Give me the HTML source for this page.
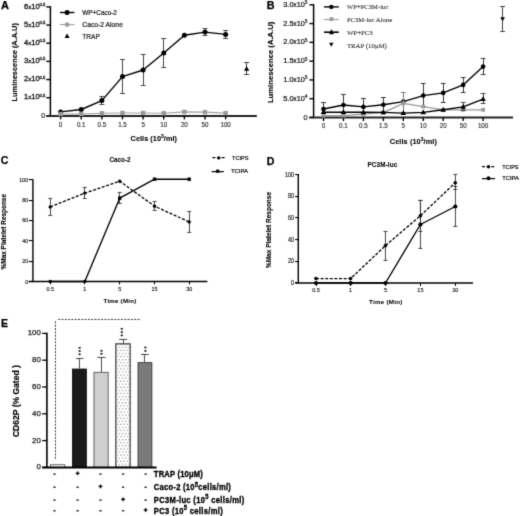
<!DOCTYPE html>
<html><head><meta charset="utf-8"><style>
html,body{margin:0;padding:0;background:#fff;}
body{width:520px;height:516px;overflow:hidden;font-family:"Liberation Sans",sans-serif;}
svg{display:block;}

</style></head><body>
<svg width="520" height="516" viewBox="0 0 520 516">
<defs><filter id="soft" x="0" y="0" width="520" height="516" filterUnits="userSpaceOnUse" color-interpolation-filters="sRGB"><feConvolveMatrix order="3" kernelMatrix="1 6 1 6 36 6 1 6 1" divisor="64" edgeMode="duplicate"/></filter></defs>
<g filter="url(#soft)">
<rect width="520" height="516" fill="#fff"/>
<text x="0.90" y="9.10" font-family="Liberation Sans" font-size="11.0" text-anchor="start" fill="#000" font-weight="bold" stroke="#000" stroke-width="0.25">A</text>
<line x1="50.40" y1="6.20" x2="50.40" y2="115.90" stroke="#000" stroke-width="1.5" stroke-linecap="butt"/>
<line x1="46.30" y1="6.90" x2="50.40" y2="6.90" stroke="#000" stroke-width="1.4" stroke-linecap="butt"/>
<text x="24.0" y="8.50" font-family="Liberation Sans" font-size="7.2" fill="#111" stroke="#111" stroke-width="0.28" textLength="21.4" lengthAdjust="spacingAndGlyphs">6<tspan font-size="5.8">x</tspan>10<tspan font-size="4.0" dy="-2.6">0.5</tspan></text>
<line x1="46.30" y1="25.07" x2="50.40" y2="25.07" stroke="#000" stroke-width="1.4" stroke-linecap="butt"/>
<text x="24.0" y="26.67" font-family="Liberation Sans" font-size="7.2" fill="#111" stroke="#111" stroke-width="0.28" textLength="21.4" lengthAdjust="spacingAndGlyphs">5<tspan font-size="5.8">x</tspan>10<tspan font-size="4.0" dy="-2.6">0.5</tspan></text>
<line x1="46.30" y1="43.23" x2="50.40" y2="43.23" stroke="#000" stroke-width="1.4" stroke-linecap="butt"/>
<text x="24.0" y="44.83" font-family="Liberation Sans" font-size="7.2" fill="#111" stroke="#111" stroke-width="0.28" textLength="21.4" lengthAdjust="spacingAndGlyphs">4<tspan font-size="5.8">x</tspan>10<tspan font-size="4.0" dy="-2.6">0.5</tspan></text>
<line x1="46.30" y1="61.40" x2="50.40" y2="61.40" stroke="#000" stroke-width="1.4" stroke-linecap="butt"/>
<text x="24.0" y="63.00" font-family="Liberation Sans" font-size="7.2" fill="#111" stroke="#111" stroke-width="0.28" textLength="21.4" lengthAdjust="spacingAndGlyphs">3<tspan font-size="5.8">x</tspan>10<tspan font-size="4.0" dy="-2.6">0.5</tspan></text>
<line x1="46.30" y1="79.57" x2="50.40" y2="79.57" stroke="#000" stroke-width="1.4" stroke-linecap="butt"/>
<text x="24.0" y="81.17" font-family="Liberation Sans" font-size="7.2" fill="#111" stroke="#111" stroke-width="0.28" textLength="21.4" lengthAdjust="spacingAndGlyphs">2<tspan font-size="5.8">x</tspan>10<tspan font-size="4.0" dy="-2.6">0.5</tspan></text>
<line x1="46.30" y1="97.73" x2="50.40" y2="97.73" stroke="#000" stroke-width="1.4" stroke-linecap="butt"/>
<text x="24.0" y="99.33" font-family="Liberation Sans" font-size="7.2" fill="#111" stroke="#111" stroke-width="0.28" textLength="21.4" lengthAdjust="spacingAndGlyphs">1<tspan font-size="5.8">x</tspan>10<tspan font-size="4.0" dy="-2.6">0.5</tspan></text>
<line x1="46.30" y1="115.90" x2="50.40" y2="115.90" stroke="#000" stroke-width="1.4" stroke-linecap="butt"/>
<text x="45.00" y="118.40" font-family="Liberation Sans" font-size="6.9" text-anchor="end" fill="#2a2a2a" stroke="#2a2a2a" stroke-width="0.22">0</text>
<line x1="46.30" y1="115.90" x2="256.80" y2="115.90" stroke="#222" stroke-width="2.0" stroke-linecap="butt"/>
<line x1="60.60" y1="115.90" x2="60.60" y2="119.40" stroke="#000" stroke-width="1.4" stroke-linecap="butt"/>
<text x="60.60" y="126.50" font-family="Liberation Sans" font-size="7.6" text-anchor="middle" fill="#1a1a1a" textLength="3.47" lengthAdjust="spacingAndGlyphs" stroke="#1a1a1a" stroke-width="0.12">0</text>
<line x1="81.23" y1="115.90" x2="81.23" y2="119.40" stroke="#000" stroke-width="1.4" stroke-linecap="butt"/>
<text x="81.23" y="126.50" font-family="Liberation Sans" font-size="7.6" text-anchor="middle" fill="#1a1a1a" textLength="8.66" lengthAdjust="spacingAndGlyphs" stroke="#1a1a1a" stroke-width="0.12">0.1</text>
<line x1="101.86" y1="115.90" x2="101.86" y2="119.40" stroke="#000" stroke-width="1.4" stroke-linecap="butt"/>
<text x="101.86" y="126.50" font-family="Liberation Sans" font-size="7.6" text-anchor="middle" fill="#1a1a1a" textLength="8.66" lengthAdjust="spacingAndGlyphs" stroke="#1a1a1a" stroke-width="0.12">0.5</text>
<line x1="122.49" y1="115.90" x2="122.49" y2="119.40" stroke="#000" stroke-width="1.4" stroke-linecap="butt"/>
<text x="122.49" y="126.50" font-family="Liberation Sans" font-size="7.6" text-anchor="middle" fill="#1a1a1a" textLength="8.66" lengthAdjust="spacingAndGlyphs" stroke="#1a1a1a" stroke-width="0.12">1.5</text>
<line x1="143.12" y1="115.90" x2="143.12" y2="119.40" stroke="#000" stroke-width="1.4" stroke-linecap="butt"/>
<text x="143.12" y="126.50" font-family="Liberation Sans" font-size="7.6" text-anchor="middle" fill="#1a1a1a" textLength="3.47" lengthAdjust="spacingAndGlyphs" stroke="#1a1a1a" stroke-width="0.12">5</text>
<line x1="163.75" y1="115.90" x2="163.75" y2="119.40" stroke="#000" stroke-width="1.4" stroke-linecap="butt"/>
<text x="163.75" y="126.50" font-family="Liberation Sans" font-size="7.6" text-anchor="middle" fill="#1a1a1a" textLength="6.93" lengthAdjust="spacingAndGlyphs" stroke="#1a1a1a" stroke-width="0.12">10</text>
<line x1="184.38" y1="115.90" x2="184.38" y2="119.40" stroke="#000" stroke-width="1.4" stroke-linecap="butt"/>
<text x="184.38" y="126.50" font-family="Liberation Sans" font-size="7.6" text-anchor="middle" fill="#1a1a1a" textLength="6.93" lengthAdjust="spacingAndGlyphs" stroke="#1a1a1a" stroke-width="0.12">20</text>
<line x1="205.01" y1="115.90" x2="205.01" y2="119.40" stroke="#000" stroke-width="1.4" stroke-linecap="butt"/>
<text x="205.01" y="126.50" font-family="Liberation Sans" font-size="7.6" text-anchor="middle" fill="#1a1a1a" textLength="6.93" lengthAdjust="spacingAndGlyphs" stroke="#1a1a1a" stroke-width="0.12">50</text>
<line x1="225.64" y1="115.90" x2="225.64" y2="119.40" stroke="#000" stroke-width="1.4" stroke-linecap="butt"/>
<text x="225.64" y="126.50" font-family="Liberation Sans" font-size="7.6" text-anchor="middle" fill="#1a1a1a" textLength="10.40" lengthAdjust="spacingAndGlyphs" stroke="#1a1a1a" stroke-width="0.12">100</text>
<text x="130.6" y="141.0" font-family="Liberation Sans" font-size="7.3" font-weight="bold" stroke="#000" stroke-width="0.08" textLength="46.4" lengthAdjust="spacing">Cells (10<tspan font-size="5" dy="-2.8">3</tspan><tspan dy="2.8">/ml)</tspan></text>
<text x="16.80" y="62.25" font-family="Liberation Sans" font-size="7.9" text-anchor="middle" fill="#000" font-weight="bold" textLength="78.30" lengthAdjust="spacingAndGlyphs" transform="rotate(-90 16.80 62.25)" stroke="#000" stroke-width="0.12">Luminescence (A.A.U)</text>
<line x1="101.50" y1="96.30" x2="101.50" y2="105.00" stroke="#4a4a4a" stroke-width="1.0" stroke-linecap="butt"/>
<line x1="99.36" y1="96.50" x2="104.36" y2="96.50" stroke="#4a4a4a" stroke-width="1.0" stroke-linecap="butt"/>
<line x1="99.36" y1="104.50" x2="104.36" y2="104.50" stroke="#4a4a4a" stroke-width="1.0" stroke-linecap="butt"/>
<line x1="122.50" y1="59.50" x2="122.50" y2="93.30" stroke="#4a4a4a" stroke-width="1.0" stroke-linecap="butt"/>
<line x1="119.99" y1="59.50" x2="124.99" y2="59.50" stroke="#4a4a4a" stroke-width="1.0" stroke-linecap="butt"/>
<line x1="119.99" y1="93.50" x2="124.99" y2="93.50" stroke="#4a4a4a" stroke-width="1.0" stroke-linecap="butt"/>
<line x1="143.50" y1="54.20" x2="143.50" y2="85.50" stroke="#4a4a4a" stroke-width="1.0" stroke-linecap="butt"/>
<line x1="140.62" y1="54.50" x2="145.62" y2="54.50" stroke="#4a4a4a" stroke-width="1.0" stroke-linecap="butt"/>
<line x1="140.62" y1="85.50" x2="145.62" y2="85.50" stroke="#4a4a4a" stroke-width="1.0" stroke-linecap="butt"/>
<line x1="163.50" y1="38.70" x2="163.50" y2="67.20" stroke="#4a4a4a" stroke-width="1.0" stroke-linecap="butt"/>
<line x1="161.25" y1="38.50" x2="166.25" y2="38.50" stroke="#4a4a4a" stroke-width="1.0" stroke-linecap="butt"/>
<line x1="161.25" y1="67.50" x2="166.25" y2="67.50" stroke="#4a4a4a" stroke-width="1.0" stroke-linecap="butt"/>
<line x1="205.50" y1="28.30" x2="205.50" y2="35.50" stroke="#4a4a4a" stroke-width="1.0" stroke-linecap="butt"/>
<line x1="202.51" y1="28.50" x2="207.51" y2="28.50" stroke="#4a4a4a" stroke-width="1.0" stroke-linecap="butt"/>
<line x1="202.51" y1="35.50" x2="207.51" y2="35.50" stroke="#4a4a4a" stroke-width="1.0" stroke-linecap="butt"/>
<line x1="225.50" y1="30.90" x2="225.50" y2="38.20" stroke="#4a4a4a" stroke-width="1.0" stroke-linecap="butt"/>
<line x1="223.14" y1="30.50" x2="228.14" y2="30.50" stroke="#4a4a4a" stroke-width="1.0" stroke-linecap="butt"/>
<line x1="223.14" y1="38.50" x2="228.14" y2="38.50" stroke="#4a4a4a" stroke-width="1.0" stroke-linecap="butt"/>
<polyline points="60.60,111.90 81.23,109.50 101.86,100.60 122.49,76.60 143.12,70.00 163.75,53.00 184.38,35.20 205.01,32.10 225.64,34.40" fill="none" stroke="#000" stroke-width="1.4" stroke-linejoin="round"/>
<circle cx="60.60" cy="111.90" r="2.5" fill="#000"/>
<circle cx="81.23" cy="109.50" r="2.5" fill="#000"/>
<circle cx="101.86" cy="100.60" r="2.5" fill="#000"/>
<circle cx="122.49" cy="76.60" r="2.5" fill="#000"/>
<circle cx="143.12" cy="70.00" r="2.5" fill="#000"/>
<circle cx="163.75" cy="53.00" r="2.5" fill="#000"/>
<circle cx="184.38" cy="35.20" r="2.5" fill="#000"/>
<circle cx="205.01" cy="32.10" r="2.5" fill="#000"/>
<circle cx="225.64" cy="34.40" r="2.5" fill="#000"/>
<polyline points="60.60,114.00 81.23,114.00 101.86,113.30 122.49,113.00 143.12,113.00 163.75,113.20 184.38,111.90 205.01,112.10 225.64,113.10" fill="none" stroke="#a0a0a0" stroke-width="1.1" stroke-linejoin="round"/>
<rect x="58.40" y="111.80" width="4.4" height="4.4" fill="#9a9a9a"/>
<rect x="79.03" y="111.80" width="4.4" height="4.4" fill="#9a9a9a"/>
<rect x="99.66" y="111.10" width="4.4" height="4.4" fill="#9a9a9a"/>
<rect x="120.29" y="110.80" width="4.4" height="4.4" fill="#9a9a9a"/>
<rect x="140.92" y="110.80" width="4.4" height="4.4" fill="#9a9a9a"/>
<rect x="161.55" y="111.00" width="4.4" height="4.4" fill="#9a9a9a"/>
<rect x="182.18" y="109.70" width="4.4" height="4.4" fill="#9a9a9a"/>
<rect x="202.81" y="109.90" width="4.4" height="4.4" fill="#9a9a9a"/>
<rect x="223.44" y="110.90" width="4.4" height="4.4" fill="#9a9a9a"/>
<line x1="246.50" y1="62.60" x2="246.50" y2="74.30" stroke="#444" stroke-width="1.0" stroke-linecap="butt"/>
<line x1="244.10" y1="62.50" x2="249.10" y2="62.50" stroke="#444" stroke-width="1.0" stroke-linecap="butt"/>
<line x1="244.10" y1="74.50" x2="249.10" y2="74.50" stroke="#444" stroke-width="1.0" stroke-linecap="butt"/>
<polygon points="246.60,65.99 244.00,70.67 249.20,70.67" fill="#000"/>
<line x1="60.00" y1="12.50" x2="74.40" y2="12.50" stroke="#000" stroke-width="1.4" stroke-linecap="butt"/>
<circle cx="67.10" cy="12.50" r="2.5" fill="#000"/>
<text x="82.30" y="14.80" font-family="Liberation Sans" font-size="6.8" text-anchor="start" fill="#1e1e1e" textLength="34.60" lengthAdjust="spacingAndGlyphs" stroke="#1e1e1e" stroke-width="0.22">WP+Caco-2</text>
<line x1="60.00" y1="24.55" x2="74.40" y2="24.55" stroke="#a0a0a0" stroke-width="1.1" stroke-linecap="butt"/>
<rect x="65.10" y="22.60" width="4.0" height="4.0" fill="#9a9a9a"/>
<text x="82.30" y="26.90" font-family="Liberation Sans" font-size="6.8" text-anchor="start" fill="#1e1e1e" textLength="40.60" lengthAdjust="spacingAndGlyphs" stroke="#1e1e1e" stroke-width="0.22">Caco-2 Alone</text>
<polygon points="67.10,33.60 64.60,38.10 69.60,38.10" fill="#000"/>
<text x="82.30" y="38.60" font-family="Liberation Sans" font-size="6.8" text-anchor="start" fill="#1e1e1e" textLength="17.60" lengthAdjust="spacingAndGlyphs" stroke="#1e1e1e" stroke-width="0.22">TRAP</text>
<text x="266.70" y="8.80" font-family="Liberation Sans" font-size="10.8" text-anchor="start" fill="#000" font-weight="bold" stroke="#000" stroke-width="0.25">B</text>
<line x1="313.60" y1="4.10" x2="313.60" y2="117.50" stroke="#000" stroke-width="1.5" stroke-linecap="butt"/>
<line x1="309.40" y1="4.80" x2="313.60" y2="4.80" stroke="#000" stroke-width="1.4" stroke-linecap="butt"/>
<text x="283.2" y="6.80" font-family="Liberation Sans" font-size="7.9" fill="#111" stroke="#111" stroke-width="0.22" textLength="24.2" lengthAdjust="spacingAndGlyphs">3.0<tspan font-size="6.6">x</tspan>10<tspan font-size="4.6" dy="-2.5">5</tspan></text>
<line x1="309.40" y1="23.58" x2="313.60" y2="23.58" stroke="#000" stroke-width="1.4" stroke-linecap="butt"/>
<text x="283.2" y="25.58" font-family="Liberation Sans" font-size="7.9" fill="#111" stroke="#111" stroke-width="0.22" textLength="24.2" lengthAdjust="spacingAndGlyphs">2.5<tspan font-size="6.6">x</tspan>10<tspan font-size="4.6" dy="-2.5">5</tspan></text>
<line x1="309.40" y1="42.37" x2="313.60" y2="42.37" stroke="#000" stroke-width="1.4" stroke-linecap="butt"/>
<text x="283.2" y="44.37" font-family="Liberation Sans" font-size="7.9" fill="#111" stroke="#111" stroke-width="0.22" textLength="24.2" lengthAdjust="spacingAndGlyphs">2.0<tspan font-size="6.6">x</tspan>10<tspan font-size="4.6" dy="-2.5">5</tspan></text>
<line x1="309.40" y1="61.15" x2="313.60" y2="61.15" stroke="#000" stroke-width="1.4" stroke-linecap="butt"/>
<text x="283.2" y="63.15" font-family="Liberation Sans" font-size="7.9" fill="#111" stroke="#111" stroke-width="0.22" textLength="24.2" lengthAdjust="spacingAndGlyphs">1.5<tspan font-size="6.6">x</tspan>10<tspan font-size="4.6" dy="-2.5">5</tspan></text>
<line x1="309.40" y1="79.93" x2="313.60" y2="79.93" stroke="#000" stroke-width="1.4" stroke-linecap="butt"/>
<text x="283.2" y="81.93" font-family="Liberation Sans" font-size="7.9" fill="#111" stroke="#111" stroke-width="0.22" textLength="24.2" lengthAdjust="spacingAndGlyphs">1.0<tspan font-size="6.6">x</tspan>10<tspan font-size="4.6" dy="-2.5">5</tspan></text>
<line x1="309.40" y1="98.72" x2="313.60" y2="98.72" stroke="#000" stroke-width="1.4" stroke-linecap="butt"/>
<text x="283.2" y="100.72" font-family="Liberation Sans" font-size="7.9" fill="#111" stroke="#111" stroke-width="0.22" textLength="24.2" lengthAdjust="spacingAndGlyphs">5.0<tspan font-size="6.6">x</tspan>10<tspan font-size="4.6" dy="-2.5">4</tspan></text>
<line x1="309.40" y1="117.50" x2="313.60" y2="117.50" stroke="#000" stroke-width="1.4" stroke-linecap="butt"/>
<text x="307.60" y="120.10" font-family="Liberation Sans" font-size="7.3" text-anchor="end" fill="#2a2a2a" stroke="#2a2a2a" stroke-width="0.22">0</text>
<line x1="309.40" y1="117.50" x2="513.00" y2="117.50" stroke="#222" stroke-width="2.0" stroke-linecap="butt"/>
<line x1="323.50" y1="117.50" x2="323.50" y2="121.00" stroke="#000" stroke-width="1.4" stroke-linecap="butt"/>
<text x="323.50" y="128.20" font-family="Liberation Sans" font-size="7.6" text-anchor="middle" fill="#1a1a1a" textLength="3.47" lengthAdjust="spacingAndGlyphs" stroke="#1a1a1a" stroke-width="0.12">0</text>
<line x1="343.45" y1="117.50" x2="343.45" y2="121.00" stroke="#000" stroke-width="1.4" stroke-linecap="butt"/>
<text x="343.45" y="128.20" font-family="Liberation Sans" font-size="7.6" text-anchor="middle" fill="#1a1a1a" textLength="8.66" lengthAdjust="spacingAndGlyphs" stroke="#1a1a1a" stroke-width="0.12">0.1</text>
<line x1="363.40" y1="117.50" x2="363.40" y2="121.00" stroke="#000" stroke-width="1.4" stroke-linecap="butt"/>
<text x="363.40" y="128.20" font-family="Liberation Sans" font-size="7.6" text-anchor="middle" fill="#1a1a1a" textLength="8.66" lengthAdjust="spacingAndGlyphs" stroke="#1a1a1a" stroke-width="0.12">0.5</text>
<line x1="383.35" y1="117.50" x2="383.35" y2="121.00" stroke="#000" stroke-width="1.4" stroke-linecap="butt"/>
<text x="383.35" y="128.20" font-family="Liberation Sans" font-size="7.6" text-anchor="middle" fill="#1a1a1a" textLength="8.66" lengthAdjust="spacingAndGlyphs" stroke="#1a1a1a" stroke-width="0.12">1.5</text>
<line x1="403.30" y1="117.50" x2="403.30" y2="121.00" stroke="#000" stroke-width="1.4" stroke-linecap="butt"/>
<text x="403.30" y="128.20" font-family="Liberation Sans" font-size="7.6" text-anchor="middle" fill="#1a1a1a" textLength="3.47" lengthAdjust="spacingAndGlyphs" stroke="#1a1a1a" stroke-width="0.12">5</text>
<line x1="423.25" y1="117.50" x2="423.25" y2="121.00" stroke="#000" stroke-width="1.4" stroke-linecap="butt"/>
<text x="423.25" y="128.20" font-family="Liberation Sans" font-size="7.6" text-anchor="middle" fill="#1a1a1a" textLength="6.93" lengthAdjust="spacingAndGlyphs" stroke="#1a1a1a" stroke-width="0.12">10</text>
<line x1="443.20" y1="117.50" x2="443.20" y2="121.00" stroke="#000" stroke-width="1.4" stroke-linecap="butt"/>
<text x="443.20" y="128.20" font-family="Liberation Sans" font-size="7.6" text-anchor="middle" fill="#1a1a1a" textLength="6.93" lengthAdjust="spacingAndGlyphs" stroke="#1a1a1a" stroke-width="0.12">20</text>
<line x1="463.15" y1="117.50" x2="463.15" y2="121.00" stroke="#000" stroke-width="1.4" stroke-linecap="butt"/>
<text x="463.15" y="128.20" font-family="Liberation Sans" font-size="7.6" text-anchor="middle" fill="#1a1a1a" textLength="6.93" lengthAdjust="spacingAndGlyphs" stroke="#1a1a1a" stroke-width="0.12">50</text>
<line x1="483.10" y1="117.50" x2="483.10" y2="121.00" stroke="#000" stroke-width="1.4" stroke-linecap="butt"/>
<text x="483.10" y="128.20" font-family="Liberation Sans" font-size="7.6" text-anchor="middle" fill="#1a1a1a" textLength="10.40" lengthAdjust="spacingAndGlyphs" stroke="#1a1a1a" stroke-width="0.12">100</text>
<text x="389.8" y="144.0" font-family="Liberation Sans" font-size="7.3" font-weight="bold" stroke="#000" stroke-width="0.08" textLength="47.1" lengthAdjust="spacing">Cells (10<tspan font-size="5" dy="-2.8">3</tspan><tspan dy="2.8">/ml)</tspan></text>
<text x="273.40" y="62.35" font-family="Liberation Sans" font-size="8.0" text-anchor="middle" fill="#000" font-weight="bold" textLength="81.50" lengthAdjust="spacingAndGlyphs" transform="rotate(-90 273.40 62.35)" stroke="#000" stroke-width="0.12">Luminescence (A.A.U)</text>
<line x1="323.50" y1="102.50" x2="323.50" y2="113.50" stroke="#3a3a3a" stroke-width="1.0" stroke-linecap="butt"/>
<line x1="321.10" y1="102.50" x2="325.90" y2="102.50" stroke="#3a3a3a" stroke-width="1.0" stroke-linecap="butt"/>
<line x1="321.10" y1="113.50" x2="325.90" y2="113.50" stroke="#3a3a3a" stroke-width="1.0" stroke-linecap="butt"/>
<line x1="343.50" y1="95.00" x2="343.50" y2="113.50" stroke="#3a3a3a" stroke-width="1.0" stroke-linecap="butt"/>
<line x1="341.05" y1="94.50" x2="345.85" y2="94.50" stroke="#3a3a3a" stroke-width="1.0" stroke-linecap="butt"/>
<line x1="341.05" y1="113.50" x2="345.85" y2="113.50" stroke="#3a3a3a" stroke-width="1.0" stroke-linecap="butt"/>
<line x1="363.50" y1="98.20" x2="363.50" y2="113.50" stroke="#3a3a3a" stroke-width="1.0" stroke-linecap="butt"/>
<line x1="361.00" y1="98.50" x2="365.80" y2="98.50" stroke="#3a3a3a" stroke-width="1.0" stroke-linecap="butt"/>
<line x1="361.00" y1="113.50" x2="365.80" y2="113.50" stroke="#3a3a3a" stroke-width="1.0" stroke-linecap="butt"/>
<line x1="383.50" y1="97.50" x2="383.50" y2="111.90" stroke="#3a3a3a" stroke-width="1.0" stroke-linecap="butt"/>
<line x1="380.95" y1="97.50" x2="385.75" y2="97.50" stroke="#3a3a3a" stroke-width="1.0" stroke-linecap="butt"/>
<line x1="380.95" y1="111.50" x2="385.75" y2="111.50" stroke="#3a3a3a" stroke-width="1.0" stroke-linecap="butt"/>
<line x1="423.50" y1="83.80" x2="423.50" y2="106.00" stroke="#3a3a3a" stroke-width="1.0" stroke-linecap="butt"/>
<line x1="420.85" y1="83.50" x2="425.65" y2="83.50" stroke="#3a3a3a" stroke-width="1.0" stroke-linecap="butt"/>
<line x1="420.85" y1="106.50" x2="425.65" y2="106.50" stroke="#3a3a3a" stroke-width="1.0" stroke-linecap="butt"/>
<line x1="443.50" y1="83.70" x2="443.50" y2="102.20" stroke="#3a3a3a" stroke-width="1.0" stroke-linecap="butt"/>
<line x1="440.80" y1="83.50" x2="445.60" y2="83.50" stroke="#3a3a3a" stroke-width="1.0" stroke-linecap="butt"/>
<line x1="440.80" y1="102.50" x2="445.60" y2="102.50" stroke="#3a3a3a" stroke-width="1.0" stroke-linecap="butt"/>
<line x1="463.50" y1="77.70" x2="463.50" y2="92.30" stroke="#3a3a3a" stroke-width="1.0" stroke-linecap="butt"/>
<line x1="460.75" y1="77.50" x2="465.55" y2="77.50" stroke="#3a3a3a" stroke-width="1.0" stroke-linecap="butt"/>
<line x1="460.75" y1="92.50" x2="465.55" y2="92.50" stroke="#3a3a3a" stroke-width="1.0" stroke-linecap="butt"/>
<line x1="483.50" y1="58.80" x2="483.50" y2="74.30" stroke="#3a3a3a" stroke-width="1.0" stroke-linecap="butt"/>
<line x1="480.70" y1="58.50" x2="485.50" y2="58.50" stroke="#3a3a3a" stroke-width="1.0" stroke-linecap="butt"/>
<line x1="480.70" y1="74.50" x2="485.50" y2="74.50" stroke="#3a3a3a" stroke-width="1.0" stroke-linecap="butt"/>
<polyline points="323.50,109.00 343.45,105.00 363.40,106.90 383.35,104.70 403.30,101.60 423.25,95.60 443.20,92.90 463.15,84.90 483.10,66.60" fill="none" stroke="#000" stroke-width="1.4" stroke-linejoin="round"/>
<circle cx="323.50" cy="109.00" r="2.3" fill="#000"/>
<circle cx="343.45" cy="105.00" r="2.3" fill="#000"/>
<circle cx="363.40" cy="106.90" r="2.3" fill="#000"/>
<circle cx="383.35" cy="104.70" r="2.3" fill="#000"/>
<circle cx="403.30" cy="101.60" r="2.3" fill="#000"/>
<circle cx="423.25" cy="95.60" r="2.3" fill="#000"/>
<circle cx="443.20" cy="92.90" r="2.3" fill="#000"/>
<circle cx="463.15" cy="84.90" r="2.3" fill="#000"/>
<circle cx="483.10" cy="66.60" r="2.3" fill="#000"/>
<line x1="403.50" y1="92.50" x2="403.50" y2="112.50" stroke="#777" stroke-width="1.0" stroke-linecap="butt"/>
<line x1="400.90" y1="92.50" x2="405.70" y2="92.50" stroke="#777" stroke-width="1.0" stroke-linecap="butt"/>
<line x1="400.90" y1="112.50" x2="405.70" y2="112.50" stroke="#777" stroke-width="1.0" stroke-linecap="butt"/>
<polyline points="323.50,115.60 343.45,115.60 363.40,114.20 383.35,112.60 403.30,103.30 423.25,106.60 443.20,109.80 463.15,109.80 483.10,109.80" fill="none" stroke="#9a9a9a" stroke-width="1.3" stroke-linejoin="round"/>
<rect x="321.60" y="113.70" width="3.8" height="3.8" fill="#9a9a9a"/>
<rect x="341.55" y="113.70" width="3.8" height="3.8" fill="#9a9a9a"/>
<rect x="361.50" y="112.30" width="3.8" height="3.8" fill="#9a9a9a"/>
<rect x="381.45" y="110.70" width="3.8" height="3.8" fill="#9a9a9a"/>
<rect x="401.40" y="101.40" width="3.8" height="3.8" fill="#9a9a9a"/>
<rect x="421.35" y="104.70" width="3.8" height="3.8" fill="#9a9a9a"/>
<rect x="441.30" y="107.90" width="3.8" height="3.8" fill="#9a9a9a"/>
<rect x="461.25" y="107.90" width="3.8" height="3.8" fill="#9a9a9a"/>
<rect x="481.20" y="107.90" width="3.8" height="3.8" fill="#9a9a9a"/>
<line x1="463.50" y1="102.70" x2="463.50" y2="111.00" stroke="#444" stroke-width="1.0" stroke-linecap="butt"/>
<line x1="460.75" y1="102.50" x2="465.55" y2="102.50" stroke="#444" stroke-width="1.0" stroke-linecap="butt"/>
<line x1="460.75" y1="110.50" x2="465.55" y2="110.50" stroke="#444" stroke-width="1.0" stroke-linecap="butt"/>
<line x1="483.50" y1="93.40" x2="483.50" y2="103.90" stroke="#444" stroke-width="1.0" stroke-linecap="butt"/>
<line x1="480.70" y1="93.50" x2="485.50" y2="93.50" stroke="#444" stroke-width="1.0" stroke-linecap="butt"/>
<line x1="480.70" y1="103.50" x2="485.50" y2="103.50" stroke="#444" stroke-width="1.0" stroke-linecap="butt"/>
<polyline points="323.50,112.20 343.45,112.20 363.40,112.30 383.35,112.40 403.30,113.10 423.25,112.40 443.20,109.80 463.15,106.90 483.10,99.10" fill="none" stroke="#000" stroke-width="1.4" stroke-linejoin="round"/>
<polygon points="323.50,109.32 320.70,114.12 326.30,114.12" fill="#000"/>
<polygon points="343.45,109.32 340.65,114.12 346.25,114.12" fill="#000"/>
<polygon points="363.40,109.42 360.60,114.22 366.20,114.22" fill="#000"/>
<polygon points="383.35,109.52 380.55,114.32 386.15,114.32" fill="#000"/>
<polygon points="403.30,110.22 400.50,115.02 406.10,115.02" fill="#000"/>
<polygon points="423.25,109.52 420.45,114.32 426.05,114.32" fill="#000"/>
<polygon points="443.20,106.92 440.40,111.72 446.00,111.72" fill="#000"/>
<polygon points="463.15,104.02 460.35,108.82 465.95,108.82" fill="#000"/>
<polygon points="483.10,96.22 480.30,101.02 485.90,101.02" fill="#000"/>
<line x1="502.50" y1="6.30" x2="502.50" y2="31.90" stroke="#444" stroke-width="1.0" stroke-linecap="butt"/>
<line x1="500.20" y1="6.50" x2="505.00" y2="6.50" stroke="#444" stroke-width="1.0" stroke-linecap="butt"/>
<line x1="500.20" y1="31.50" x2="505.00" y2="31.50" stroke="#444" stroke-width="1.0" stroke-linecap="butt"/>
<polygon points="502.60,21.38 500.30,17.24 504.90,17.24" fill="#000"/>
<line x1="324.00" y1="6.90" x2="338.80" y2="6.90" stroke="#000" stroke-width="1.4" stroke-linecap="butt"/>
<circle cx="331.30" cy="6.90" r="2.2" fill="#000"/>
<text x="346.90" y="9.30" font-family="Liberation Serif" font-size="6.9" text-anchor="start" fill="#2a2a2a" textLength="41.50" lengthAdjust="spacingAndGlyphs" stroke="#2a2a2a" stroke-width="0.08">WP+PC3M-luc</text>
<line x1="324.00" y1="19.55" x2="338.80" y2="19.55" stroke="#a0a0a0" stroke-width="1.1" stroke-linecap="butt"/>
<rect x="329.60" y="17.20" width="3.8" height="3.8" fill="#9a9a9a"/>
<text x="346.90" y="22.10" font-family="Liberation Serif" font-size="6.9" text-anchor="start" fill="#2a2a2a" textLength="45.20" lengthAdjust="spacingAndGlyphs" stroke="#2a2a2a" stroke-width="0.08">PC3M-luc Alone</text>
<line x1="324.00" y1="32.20" x2="338.80" y2="32.20" stroke="#000" stroke-width="1.6" stroke-linecap="butt"/>
<polygon points="331.50,29.08 329.10,34.28 333.90,34.28" fill="#000"/>
<text x="346.90" y="35.00" font-family="Liberation Serif" font-size="6.9" text-anchor="start" fill="#2a2a2a" textLength="25.90" lengthAdjust="spacingAndGlyphs" stroke="#2a2a2a" stroke-width="0.08">WP+PC3</text>
<polygon points="331.30,46.78 329.10,42.82 333.50,42.82" fill="#000"/>
<text x="346.90" y="47.50" font-family="Liberation Serif" font-size="6.9" text-anchor="start" fill="#2a2a2a" textLength="40.00" lengthAdjust="spacingAndGlyphs" stroke="#2a2a2a" stroke-width="0.08">TRAP (10μM)</text>
<text x="0.80" y="164.30" font-family="Liberation Sans" font-size="10.6" text-anchor="start" fill="#000" font-weight="bold" stroke="#000" stroke-width="0.25">C</text>
<line x1="32.90" y1="179.20" x2="32.90" y2="281.50" stroke="#000" stroke-width="1.4" stroke-linecap="butt"/>
<line x1="28.80" y1="179.55" x2="32.90" y2="179.55" stroke="#000" stroke-width="1.1" stroke-linecap="butt"/>
<text x="28.20" y="181.80" font-family="Liberation Sans" font-size="6.2" text-anchor="end" fill="#111" textLength="8.90" lengthAdjust="spacingAndGlyphs" stroke="#111" stroke-width="0.15">100</text>
<line x1="28.80" y1="200.55" x2="32.90" y2="200.55" stroke="#000" stroke-width="1.1" stroke-linecap="butt"/>
<text x="28.20" y="202.14" font-family="Liberation Sans" font-size="6.2" text-anchor="end" fill="#111" textLength="5.93" lengthAdjust="spacingAndGlyphs" stroke="#111" stroke-width="0.15">80</text>
<line x1="28.80" y1="220.55" x2="32.90" y2="220.55" stroke="#000" stroke-width="1.1" stroke-linecap="butt"/>
<text x="28.20" y="222.48" font-family="Liberation Sans" font-size="6.2" text-anchor="end" fill="#111" textLength="5.93" lengthAdjust="spacingAndGlyphs" stroke="#111" stroke-width="0.15">60</text>
<line x1="28.80" y1="240.55" x2="32.90" y2="240.55" stroke="#000" stroke-width="1.1" stroke-linecap="butt"/>
<text x="28.20" y="242.82" font-family="Liberation Sans" font-size="6.2" text-anchor="end" fill="#111" textLength="5.93" lengthAdjust="spacingAndGlyphs" stroke="#111" stroke-width="0.15">40</text>
<line x1="28.80" y1="261.55" x2="32.90" y2="261.55" stroke="#000" stroke-width="1.1" stroke-linecap="butt"/>
<text x="28.20" y="263.16" font-family="Liberation Sans" font-size="6.2" text-anchor="end" fill="#111" textLength="5.93" lengthAdjust="spacingAndGlyphs" stroke="#111" stroke-width="0.15">20</text>
<line x1="28.80" y1="281.55" x2="32.90" y2="281.55" stroke="#000" stroke-width="1.1" stroke-linecap="butt"/>
<text x="28.20" y="283.50" font-family="Liberation Sans" font-size="6.2" text-anchor="end" fill="#111" textLength="2.97" lengthAdjust="spacingAndGlyphs" stroke="#111" stroke-width="0.15">0</text>
<line x1="28.80" y1="281.50" x2="207.40" y2="281.50" stroke="#000" stroke-width="1.5" stroke-linecap="butt"/>
<line x1="50.50" y1="281.50" x2="50.50" y2="284.40" stroke="#000" stroke-width="1.0" stroke-linecap="butt"/>
<text x="50.20" y="290.80" font-family="Liberation Sans" font-size="6.1" text-anchor="middle" fill="#111" textLength="7.46" lengthAdjust="spacingAndGlyphs" stroke="#111" stroke-width="0.15">0.5</text>
<line x1="84.50" y1="281.50" x2="84.50" y2="284.40" stroke="#000" stroke-width="1.0" stroke-linecap="butt"/>
<text x="84.80" y="290.80" font-family="Liberation Sans" font-size="6.1" text-anchor="middle" fill="#111" textLength="2.99" lengthAdjust="spacingAndGlyphs" stroke="#111" stroke-width="0.15">1</text>
<line x1="119.50" y1="281.50" x2="119.50" y2="284.40" stroke="#000" stroke-width="1.0" stroke-linecap="butt"/>
<text x="119.70" y="290.80" font-family="Liberation Sans" font-size="6.1" text-anchor="middle" fill="#111" textLength="2.99" lengthAdjust="spacingAndGlyphs" stroke="#111" stroke-width="0.15">5</text>
<line x1="154.50" y1="281.50" x2="154.50" y2="284.40" stroke="#000" stroke-width="1.0" stroke-linecap="butt"/>
<text x="154.60" y="290.80" font-family="Liberation Sans" font-size="6.1" text-anchor="middle" fill="#111" textLength="5.97" lengthAdjust="spacingAndGlyphs" stroke="#111" stroke-width="0.15">15</text>
<line x1="189.50" y1="281.50" x2="189.50" y2="284.40" stroke="#000" stroke-width="1.0" stroke-linecap="butt"/>
<text x="189.20" y="290.80" font-family="Liberation Sans" font-size="6.1" text-anchor="middle" fill="#111" textLength="5.97" lengthAdjust="spacingAndGlyphs" stroke="#111" stroke-width="0.15">30</text>
<text x="103.50" y="302.80" font-family="Liberation Sans" font-size="6.1" text-anchor="start" fill="#000" font-weight="bold" textLength="32.70" lengthAdjust="spacing" stroke="#000" stroke-width="0.05">Time (Min)</text>
<text x="109.40" y="161.90" font-family="Liberation Sans" font-size="6.3" text-anchor="start" fill="#000" font-weight="bold" textLength="21.20" lengthAdjust="spacing" stroke="#000" stroke-width="0.06">Caco-2</text>
<text x="6.00" y="231.70" font-family="Liberation Sans" font-size="6.5" text-anchor="middle" fill="#000" font-weight="bold" textLength="75.40" lengthAdjust="spacingAndGlyphs" transform="rotate(-90 6.00 231.70)" stroke="#000" stroke-width="0.12">%Max Platelet Response</text>
<line x1="50.45" y1="198.80" x2="50.45" y2="215.20" stroke="#333" stroke-width="0.9" stroke-linecap="butt"/>
<line x1="48.20" y1="198.45" x2="52.20" y2="198.45" stroke="#333" stroke-width="0.9" stroke-linecap="butt"/>
<line x1="48.20" y1="215.45" x2="52.20" y2="215.45" stroke="#333" stroke-width="0.9" stroke-linecap="butt"/>
<line x1="84.45" y1="187.70" x2="84.45" y2="198.30" stroke="#333" stroke-width="0.9" stroke-linecap="butt"/>
<line x1="82.80" y1="187.45" x2="86.80" y2="187.45" stroke="#333" stroke-width="0.9" stroke-linecap="butt"/>
<line x1="82.80" y1="198.45" x2="86.80" y2="198.45" stroke="#333" stroke-width="0.9" stroke-linecap="butt"/>
<line x1="154.45" y1="201.90" x2="154.45" y2="210.40" stroke="#333" stroke-width="0.9" stroke-linecap="butt"/>
<line x1="152.60" y1="201.45" x2="156.60" y2="201.45" stroke="#333" stroke-width="0.9" stroke-linecap="butt"/>
<line x1="152.60" y1="210.45" x2="156.60" y2="210.45" stroke="#333" stroke-width="0.9" stroke-linecap="butt"/>
<line x1="189.45" y1="211.50" x2="189.45" y2="232.10" stroke="#333" stroke-width="0.9" stroke-linecap="butt"/>
<line x1="187.20" y1="211.45" x2="191.20" y2="211.45" stroke="#333" stroke-width="0.9" stroke-linecap="butt"/>
<line x1="187.20" y1="232.45" x2="191.20" y2="232.45" stroke="#333" stroke-width="0.9" stroke-linecap="butt"/>
<polyline points="50.20,206.90 84.80,193.10 119.70,181.20 154.60,206.20 189.20,221.90" fill="none" stroke="#000" stroke-width="1.35" stroke-linejoin="round" stroke-dasharray="3,1.6"/>
<circle cx="50.20" cy="206.90" r="1.7" fill="#000"/>
<circle cx="84.80" cy="193.10" r="1.7" fill="#000"/>
<circle cx="119.70" cy="181.20" r="1.7" fill="#000"/>
<circle cx="154.60" cy="206.20" r="1.7" fill="#000"/>
<circle cx="189.20" cy="221.90" r="1.7" fill="#000"/>
<line x1="119.45" y1="192.70" x2="119.45" y2="203.60" stroke="#333" stroke-width="0.9" stroke-linecap="butt"/>
<line x1="117.70" y1="192.45" x2="121.70" y2="192.45" stroke="#333" stroke-width="0.9" stroke-linecap="butt"/>
<line x1="117.70" y1="203.45" x2="121.70" y2="203.45" stroke="#333" stroke-width="0.9" stroke-linecap="butt"/>
<polyline points="50.20,281.50 84.80,281.50 119.70,198.20 154.60,179.20 189.20,179.20" fill="none" stroke="#000" stroke-width="1.35" stroke-linejoin="round"/>
<circle cx="50.20" cy="281.50" r="1.8" fill="#000"/>
<circle cx="84.80" cy="281.50" r="1.8" fill="#000"/>
<rect x="118.00" y="196.50" width="3.4" height="3.4" fill="#000"/>
<rect x="152.90" y="177.50" width="3.4" height="3.4" fill="#000"/>
<rect x="187.50" y="177.50" width="3.4" height="3.4" fill="#000"/>
<line x1="212.40" y1="157.60" x2="225.10" y2="157.60" stroke="#000" stroke-width="1.2" stroke-linecap="butt" stroke-dasharray="3,1.6"/>
<circle cx="218.80" cy="157.90" r="1.7" fill="#000"/>
<text x="232.00" y="159.80" font-family="Liberation Sans" font-size="5.5" text-anchor="start" fill="#111" textLength="16.60" lengthAdjust="spacingAndGlyphs" stroke="#111" stroke-width="0.2">TCIPS</text>
<line x1="211.60" y1="171.60" x2="223.80" y2="171.60" stroke="#000" stroke-width="1.2" stroke-linecap="butt"/>
<rect x="216.10" y="169.60" width="3.2" height="3.2" fill="#000"/>
<text x="230.90" y="173.10" font-family="Liberation Sans" font-size="5.5" text-anchor="start" fill="#111" textLength="17.00" lengthAdjust="spacingAndGlyphs" stroke="#111" stroke-width="0.2">TCIPA</text>
<text x="266.70" y="164.50" font-family="Liberation Sans" font-size="10.6" text-anchor="start" fill="#000" font-weight="bold" stroke="#000" stroke-width="0.25">D</text>
<line x1="298.30" y1="174.00" x2="298.30" y2="283.00" stroke="#000" stroke-width="1.4" stroke-linecap="butt"/>
<line x1="295.10" y1="174.55" x2="298.30" y2="174.55" stroke="#000" stroke-width="1.1" stroke-linecap="butt"/>
<text x="294.00" y="176.70" font-family="Liberation Sans" font-size="6.3" text-anchor="end" fill="#111" textLength="9.04" lengthAdjust="spacingAndGlyphs" stroke="#111" stroke-width="0.15">100</text>
<line x1="295.10" y1="196.55" x2="298.30" y2="196.55" stroke="#000" stroke-width="1.1" stroke-linecap="butt"/>
<text x="294.00" y="198.38" font-family="Liberation Sans" font-size="6.3" text-anchor="end" fill="#111" textLength="6.03" lengthAdjust="spacingAndGlyphs" stroke="#111" stroke-width="0.15">80</text>
<line x1="295.10" y1="217.55" x2="298.30" y2="217.55" stroke="#000" stroke-width="1.1" stroke-linecap="butt"/>
<text x="294.00" y="220.06" font-family="Liberation Sans" font-size="6.3" text-anchor="end" fill="#111" textLength="6.03" lengthAdjust="spacingAndGlyphs" stroke="#111" stroke-width="0.15">60</text>
<line x1="295.10" y1="239.55" x2="298.30" y2="239.55" stroke="#000" stroke-width="1.1" stroke-linecap="butt"/>
<text x="294.00" y="241.74" font-family="Liberation Sans" font-size="6.3" text-anchor="end" fill="#111" textLength="6.03" lengthAdjust="spacingAndGlyphs" stroke="#111" stroke-width="0.15">40</text>
<line x1="295.10" y1="261.55" x2="298.30" y2="261.55" stroke="#000" stroke-width="1.1" stroke-linecap="butt"/>
<text x="294.00" y="263.42" font-family="Liberation Sans" font-size="6.3" text-anchor="end" fill="#111" textLength="6.03" lengthAdjust="spacingAndGlyphs" stroke="#111" stroke-width="0.15">20</text>
<line x1="295.10" y1="282.55" x2="298.30" y2="282.55" stroke="#000" stroke-width="1.1" stroke-linecap="butt"/>
<text x="294.00" y="285.10" font-family="Liberation Sans" font-size="6.3" text-anchor="end" fill="#111" textLength="3.01" lengthAdjust="spacingAndGlyphs" stroke="#111" stroke-width="0.15">0</text>
<line x1="295.10" y1="283.00" x2="473.00" y2="283.00" stroke="#000" stroke-width="1.5" stroke-linecap="butt"/>
<line x1="316.50" y1="283.00" x2="316.50" y2="286.00" stroke="#000" stroke-width="1.0" stroke-linecap="butt"/>
<text x="316.00" y="292.40" font-family="Liberation Sans" font-size="6.2" text-anchor="middle" fill="#111" textLength="7.58" lengthAdjust="spacingAndGlyphs" stroke="#111" stroke-width="0.15">0.5</text>
<line x1="350.50" y1="283.00" x2="350.50" y2="286.00" stroke="#000" stroke-width="1.0" stroke-linecap="butt"/>
<text x="350.60" y="292.40" font-family="Liberation Sans" font-size="6.2" text-anchor="middle" fill="#111" textLength="3.03" lengthAdjust="spacingAndGlyphs" stroke="#111" stroke-width="0.15">1</text>
<line x1="385.50" y1="283.00" x2="385.50" y2="286.00" stroke="#000" stroke-width="1.0" stroke-linecap="butt"/>
<text x="385.50" y="292.40" font-family="Liberation Sans" font-size="6.2" text-anchor="middle" fill="#111" textLength="3.03" lengthAdjust="spacingAndGlyphs" stroke="#111" stroke-width="0.15">5</text>
<line x1="420.50" y1="283.00" x2="420.50" y2="286.00" stroke="#000" stroke-width="1.0" stroke-linecap="butt"/>
<text x="420.40" y="292.40" font-family="Liberation Sans" font-size="6.2" text-anchor="middle" fill="#111" textLength="6.07" lengthAdjust="spacingAndGlyphs" stroke="#111" stroke-width="0.15">15</text>
<line x1="455.50" y1="283.00" x2="455.50" y2="286.00" stroke="#000" stroke-width="1.0" stroke-linecap="butt"/>
<text x="455.30" y="292.40" font-family="Liberation Sans" font-size="6.2" text-anchor="middle" fill="#111" textLength="6.07" lengthAdjust="spacingAndGlyphs" stroke="#111" stroke-width="0.15">30</text>
<text x="369.10" y="304.40" font-family="Liberation Sans" font-size="6.2" text-anchor="start" fill="#000" font-weight="bold" textLength="33.20" lengthAdjust="spacing" stroke="#000" stroke-width="0.05">Time (Min)</text>
<text x="367.50" y="166.90" font-family="Liberation Sans" font-size="6.4" text-anchor="start" fill="#000" font-weight="bold" textLength="29.80" lengthAdjust="spacing" stroke="#000" stroke-width="0.06">PC3M-luc</text>
<text x="271.00" y="230.00" font-family="Liberation Sans" font-size="6.5" text-anchor="middle" fill="#000" font-weight="bold" textLength="76.10" lengthAdjust="spacingAndGlyphs" transform="rotate(-90 271.00 230.00)" stroke="#000" stroke-width="0.12">%Max Platelet Response</text>
<line x1="385.45" y1="231.20" x2="385.45" y2="260.30" stroke="#333" stroke-width="0.9" stroke-linecap="butt"/>
<line x1="383.50" y1="231.45" x2="387.50" y2="231.45" stroke="#333" stroke-width="0.9" stroke-linecap="butt"/>
<line x1="383.50" y1="260.45" x2="387.50" y2="260.45" stroke="#333" stroke-width="0.9" stroke-linecap="butt"/>
<line x1="420.45" y1="200.30" x2="420.45" y2="231.30" stroke="#333" stroke-width="0.9" stroke-linecap="butt"/>
<line x1="418.40" y1="200.45" x2="422.40" y2="200.45" stroke="#333" stroke-width="0.9" stroke-linecap="butt"/>
<line x1="418.40" y1="231.45" x2="422.40" y2="231.45" stroke="#333" stroke-width="0.9" stroke-linecap="butt"/>
<line x1="455.45" y1="174.90" x2="455.45" y2="189.80" stroke="#333" stroke-width="0.9" stroke-linecap="butt"/>
<line x1="453.30" y1="174.45" x2="457.30" y2="174.45" stroke="#333" stroke-width="0.9" stroke-linecap="butt"/>
<line x1="453.30" y1="189.45" x2="457.30" y2="189.45" stroke="#333" stroke-width="0.9" stroke-linecap="butt"/>
<line x1="420.45" y1="200.50" x2="420.45" y2="248.60" stroke="#333" stroke-width="0.9" stroke-linecap="butt"/>
<line x1="418.40" y1="200.45" x2="422.40" y2="200.45" stroke="#333" stroke-width="0.9" stroke-linecap="butt"/>
<line x1="418.40" y1="248.45" x2="422.40" y2="248.45" stroke="#333" stroke-width="0.9" stroke-linecap="butt"/>
<line x1="455.45" y1="186.90" x2="455.45" y2="226.50" stroke="#333" stroke-width="0.9" stroke-linecap="butt"/>
<line x1="453.30" y1="186.45" x2="457.30" y2="186.45" stroke="#333" stroke-width="0.9" stroke-linecap="butt"/>
<line x1="453.30" y1="226.45" x2="457.30" y2="226.45" stroke="#333" stroke-width="0.9" stroke-linecap="butt"/>
<polyline points="316.00,278.60 350.60,278.60 385.50,245.60 420.40,215.80 455.30,182.70" fill="none" stroke="#000" stroke-width="1.35" stroke-linejoin="round" stroke-dasharray="3,1.6"/>
<circle cx="316.00" cy="278.60" r="1.8" fill="#000"/>
<circle cx="350.60" cy="278.60" r="1.8" fill="#000"/>
<circle cx="385.50" cy="245.60" r="1.8" fill="#000"/>
<circle cx="420.40" cy="215.80" r="1.8" fill="#000"/>
<circle cx="455.30" cy="182.70" r="1.8" fill="#000"/>
<polyline points="316.00,283.00 350.60,283.00 385.50,283.00 420.40,224.50 455.30,206.50" fill="none" stroke="#000" stroke-width="1.35" stroke-linejoin="round"/>
<circle cx="316.00" cy="283.00" r="2.1" fill="#000"/>
<circle cx="350.60" cy="283.00" r="2.1" fill="#000"/>
<circle cx="385.50" cy="283.00" r="2.1" fill="#000"/>
<circle cx="420.40" cy="224.50" r="2.1" fill="#000"/>
<circle cx="455.30" cy="206.50" r="2.1" fill="#000"/>
<line x1="482.00" y1="166.60" x2="495.00" y2="166.60" stroke="#000" stroke-width="1.2" stroke-linecap="butt" stroke-dasharray="3,1.6"/>
<circle cx="488.50" cy="166.80" r="1.7" fill="#000"/>
<text x="502.20" y="168.80" font-family="Liberation Sans" font-size="5.8" text-anchor="start" fill="#111" textLength="16.40" lengthAdjust="spacingAndGlyphs" stroke="#111" stroke-width="0.2">TCIPS</text>
<line x1="482.00" y1="178.60" x2="495.00" y2="178.60" stroke="#000" stroke-width="1.2" stroke-linecap="butt"/>
<circle cx="488.50" cy="178.20" r="2.0" fill="#000"/>
<text x="502.20" y="180.20" font-family="Liberation Sans" font-size="5.8" text-anchor="start" fill="#111" textLength="16.80" lengthAdjust="spacingAndGlyphs" stroke="#111" stroke-width="0.2">TCIPA</text>
<text x="1.00" y="327.00" font-family="Liberation Sans" font-size="10.6" text-anchor="start" fill="#000" font-weight="bold" stroke="#000" stroke-width="0.25">E</text>
<line x1="46.90" y1="332.70" x2="46.90" y2="467.40" stroke="#000" stroke-width="1.6" stroke-linecap="butt"/>
<line x1="42.20" y1="333.40" x2="46.90" y2="333.40" stroke="#000" stroke-width="1.3" stroke-linecap="butt"/>
<text x="40.80" y="335.30" font-family="Liberation Sans" font-size="7.9" text-anchor="end" fill="#1a1a1a" stroke="#1a1a1a" stroke-width="0.25">100</text>
<line x1="42.20" y1="360.20" x2="46.90" y2="360.20" stroke="#000" stroke-width="1.3" stroke-linecap="butt"/>
<text x="40.80" y="362.10" font-family="Liberation Sans" font-size="7.9" text-anchor="end" fill="#1a1a1a" stroke="#1a1a1a" stroke-width="0.25">80</text>
<line x1="42.20" y1="387.00" x2="46.90" y2="387.00" stroke="#000" stroke-width="1.3" stroke-linecap="butt"/>
<text x="40.80" y="388.90" font-family="Liberation Sans" font-size="7.9" text-anchor="end" fill="#1a1a1a" stroke="#1a1a1a" stroke-width="0.25">60</text>
<line x1="42.20" y1="413.80" x2="46.90" y2="413.80" stroke="#000" stroke-width="1.3" stroke-linecap="butt"/>
<text x="40.80" y="415.70" font-family="Liberation Sans" font-size="7.9" text-anchor="end" fill="#1a1a1a" stroke="#1a1a1a" stroke-width="0.25">40</text>
<line x1="42.20" y1="440.60" x2="46.90" y2="440.60" stroke="#000" stroke-width="1.3" stroke-linecap="butt"/>
<text x="40.80" y="442.50" font-family="Liberation Sans" font-size="7.9" text-anchor="end" fill="#1a1a1a" stroke="#1a1a1a" stroke-width="0.25">20</text>
<line x1="42.20" y1="467.40" x2="46.90" y2="467.40" stroke="#000" stroke-width="1.3" stroke-linecap="butt"/>
<text x="40.80" y="469.30" font-family="Liberation Sans" font-size="7.9" text-anchor="end" fill="#1a1a1a" stroke="#1a1a1a" stroke-width="0.25">0</text>
<line x1="55.45" y1="321.40" x2="55.45" y2="459.00" stroke="#222" stroke-width="0.9" stroke-linecap="butt" stroke-dasharray="2,1.3"/>
<line x1="58.20" y1="319.45" x2="140.90" y2="319.45" stroke="#222" stroke-width="0.9" stroke-linecap="butt" stroke-dasharray="2,1.3"/>
<rect x="50.45" y="464.75" width="14.30" height="2.65" fill="#fff" stroke="#555" stroke-width="0.9"/>
<rect x="72.45" y="369.05" width="13.90" height="98.35" fill="#1a1a1a" stroke="#111" stroke-width="0.9"/>
<rect x="93.95" y="372.35" width="14.20" height="95.05" fill="#cfcfcf" stroke="#555" stroke-width="0.9"/>
<defs><pattern id="dots" x="117.65" y="345.76" width="3.3" height="6.16" patternUnits="userSpaceOnUse"><rect width="3.3" height="6.16" fill="#fff"/><rect x="1.15" y="1.04" width="1" height="1" fill="#666"/><rect x="-0.5" y="4.12" width="1" height="1" fill="#666"/><rect x="2.8" y="4.12" width="1" height="1" fill="#666"/></pattern></defs>
<rect x="115.85" y="343.85" width="14.30" height="123.55" fill="url(#dots)" stroke="#444" stroke-width="1.3"/>
<rect x="138.05" y="362.65" width="13.80" height="104.75" fill="#7a7a7a" stroke="#333" stroke-width="0.9"/>
<line x1="42.20" y1="467.40" x2="156.60" y2="467.40" stroke="#000" stroke-width="2.0" stroke-linecap="butt"/>
<line x1="79.45" y1="368.60" x2="79.45" y2="358.50" stroke="#333" stroke-width="0.9" stroke-linecap="butt"/>
<line x1="75.90" y1="358.45" x2="83.40" y2="358.45" stroke="#333" stroke-width="0.9" stroke-linecap="butt"/>
<line x1="101.45" y1="371.90" x2="101.45" y2="357.30" stroke="#333" stroke-width="0.9" stroke-linecap="butt"/>
<line x1="97.40" y1="357.45" x2="105.50" y2="357.45" stroke="#333" stroke-width="0.9" stroke-linecap="butt"/>
<line x1="123.45" y1="343.30" x2="123.45" y2="339.50" stroke="#333" stroke-width="0.9" stroke-linecap="butt"/>
<line x1="119.20" y1="339.45" x2="127.10" y2="339.45" stroke="#333" stroke-width="0.9" stroke-linecap="butt"/>
<line x1="144.45" y1="362.20" x2="144.45" y2="354.00" stroke="#333" stroke-width="0.9" stroke-linecap="butt"/>
<line x1="141.00" y1="354.45" x2="148.90" y2="354.45" stroke="#333" stroke-width="0.9" stroke-linecap="butt"/>
<rect x="78.60" y="346.95" width="2.0" height="1.7" fill="#111"/>
<rect x="78.60" y="350.15" width="2.0" height="1.7" fill="#111"/>
<rect x="78.60" y="353.45" width="2.0" height="1.7" fill="#111"/>
<rect x="100.50" y="349.95" width="2.0" height="1.7" fill="#111"/>
<rect x="100.50" y="352.95" width="2.0" height="1.7" fill="#111"/>
<rect x="120.80" y="327.95" width="2.0" height="1.7" fill="#111"/>
<rect x="120.80" y="331.35" width="2.0" height="1.7" fill="#111"/>
<rect x="120.80" y="334.55" width="2.0" height="1.7" fill="#111"/>
<rect x="144.40" y="346.65" width="2.0" height="1.7" fill="#111"/>
<rect x="144.40" y="350.05" width="2.0" height="1.7" fill="#111"/>
<text x="19.00" y="401.10" font-family="Liberation Sans" font-size="8.6" text-anchor="middle" fill="#000" font-weight="bold" textLength="72.00" lengthAdjust="spacingAndGlyphs" transform="rotate(-90 19.00 401.10)" stroke="#000" stroke-width="0.12">CD62P (% Gated )</text>
<line x1="53.35" y1="474.10" x2="55.65" y2="474.10" stroke="#111" stroke-width="1.3" stroke-linecap="butt"/>
<line x1="75.70" y1="473.30" x2="79.50" y2="473.30" stroke="#000" stroke-width="1.3" stroke-linecap="butt"/>
<line x1="77.60" y1="471.40" x2="77.60" y2="475.20" stroke="#000" stroke-width="1.3" stroke-linecap="butt"/>
<line x1="99.35" y1="474.10" x2="101.65" y2="474.10" stroke="#111" stroke-width="1.3" stroke-linecap="butt"/>
<line x1="121.95" y1="474.10" x2="124.25" y2="474.10" stroke="#111" stroke-width="1.3" stroke-linecap="butt"/>
<line x1="144.45" y1="474.10" x2="146.75" y2="474.10" stroke="#111" stroke-width="1.3" stroke-linecap="butt"/>
<line x1="53.35" y1="487.20" x2="55.65" y2="487.20" stroke="#111" stroke-width="1.3" stroke-linecap="butt"/>
<line x1="76.45" y1="487.20" x2="78.75" y2="487.20" stroke="#111" stroke-width="1.3" stroke-linecap="butt"/>
<line x1="98.60" y1="486.40" x2="102.40" y2="486.40" stroke="#000" stroke-width="1.3" stroke-linecap="butt"/>
<line x1="100.50" y1="484.50" x2="100.50" y2="488.30" stroke="#000" stroke-width="1.3" stroke-linecap="butt"/>
<line x1="121.95" y1="487.20" x2="124.25" y2="487.20" stroke="#111" stroke-width="1.3" stroke-linecap="butt"/>
<line x1="144.45" y1="487.20" x2="146.75" y2="487.20" stroke="#111" stroke-width="1.3" stroke-linecap="butt"/>
<line x1="53.35" y1="500.10" x2="55.65" y2="500.10" stroke="#111" stroke-width="1.3" stroke-linecap="butt"/>
<line x1="76.45" y1="500.10" x2="78.75" y2="500.10" stroke="#111" stroke-width="1.3" stroke-linecap="butt"/>
<line x1="99.35" y1="500.10" x2="101.65" y2="500.10" stroke="#111" stroke-width="1.3" stroke-linecap="butt"/>
<line x1="121.20" y1="499.30" x2="125.00" y2="499.30" stroke="#000" stroke-width="1.3" stroke-linecap="butt"/>
<line x1="123.10" y1="497.40" x2="123.10" y2="501.20" stroke="#000" stroke-width="1.3" stroke-linecap="butt"/>
<line x1="144.45" y1="500.10" x2="146.75" y2="500.10" stroke="#111" stroke-width="1.3" stroke-linecap="butt"/>
<line x1="53.35" y1="510.80" x2="55.65" y2="510.80" stroke="#111" stroke-width="1.3" stroke-linecap="butt"/>
<line x1="76.45" y1="510.80" x2="78.75" y2="510.80" stroke="#111" stroke-width="1.3" stroke-linecap="butt"/>
<line x1="99.35" y1="510.80" x2="101.65" y2="510.80" stroke="#111" stroke-width="1.3" stroke-linecap="butt"/>
<line x1="121.95" y1="510.80" x2="124.25" y2="510.80" stroke="#111" stroke-width="1.3" stroke-linecap="butt"/>
<line x1="143.70" y1="510.00" x2="147.50" y2="510.00" stroke="#000" stroke-width="1.3" stroke-linecap="butt"/>
<line x1="145.60" y1="508.10" x2="145.60" y2="511.90" stroke="#000" stroke-width="1.3" stroke-linecap="butt"/>
<text x="0.00" y="0.00" font-family="Liberation Sans" font-size="7.6" text-anchor="start" fill="#000" font-weight="bold" textLength="49.10" lengthAdjust="spacing" transform="translate(153.80 476.80) scale(1 1.12)" stroke="#000" stroke-width="0.3">TRAP (10μM)</text>
<text x="0.00" y="0.00" font-family="Liberation Sans" font-size="7.6" text-anchor="start" fill="#000" font-weight="bold" textLength="77.00" lengthAdjust="spacing" transform="translate(153.80 489.90) scale(1 1.12)" stroke="#000" stroke-width="0.3">Caco-2 (10<tspan font-size="5.8" dy="-3.0">5</tspan><tspan dy="3.0">cells/ml)</tspan></text>
<text x="0.00" y="0.00" font-family="Liberation Sans" font-size="7.6" text-anchor="start" fill="#000" font-weight="bold" textLength="90.40" lengthAdjust="spacing" transform="translate(153.80 502.80) scale(1 1.12)" stroke="#000" stroke-width="0.3">PC3M-luc (10<tspan font-size="5.8" dy="-3.0">5</tspan><tspan dy="3.0"> cells/ml)</tspan></text>
<text x="0.00" y="0.00" font-family="Liberation Sans" font-size="7.6" text-anchor="start" fill="#000" font-weight="bold" textLength="68.90" lengthAdjust="spacing" transform="translate(153.80 513.50) scale(1 1.12)" stroke="#000" stroke-width="0.3">PC3 (10<tspan font-size="5.8" dy="-3.0">5</tspan><tspan dy="3.0"> cells/ml)</tspan></text>
</g>
</svg>
</body></html>
